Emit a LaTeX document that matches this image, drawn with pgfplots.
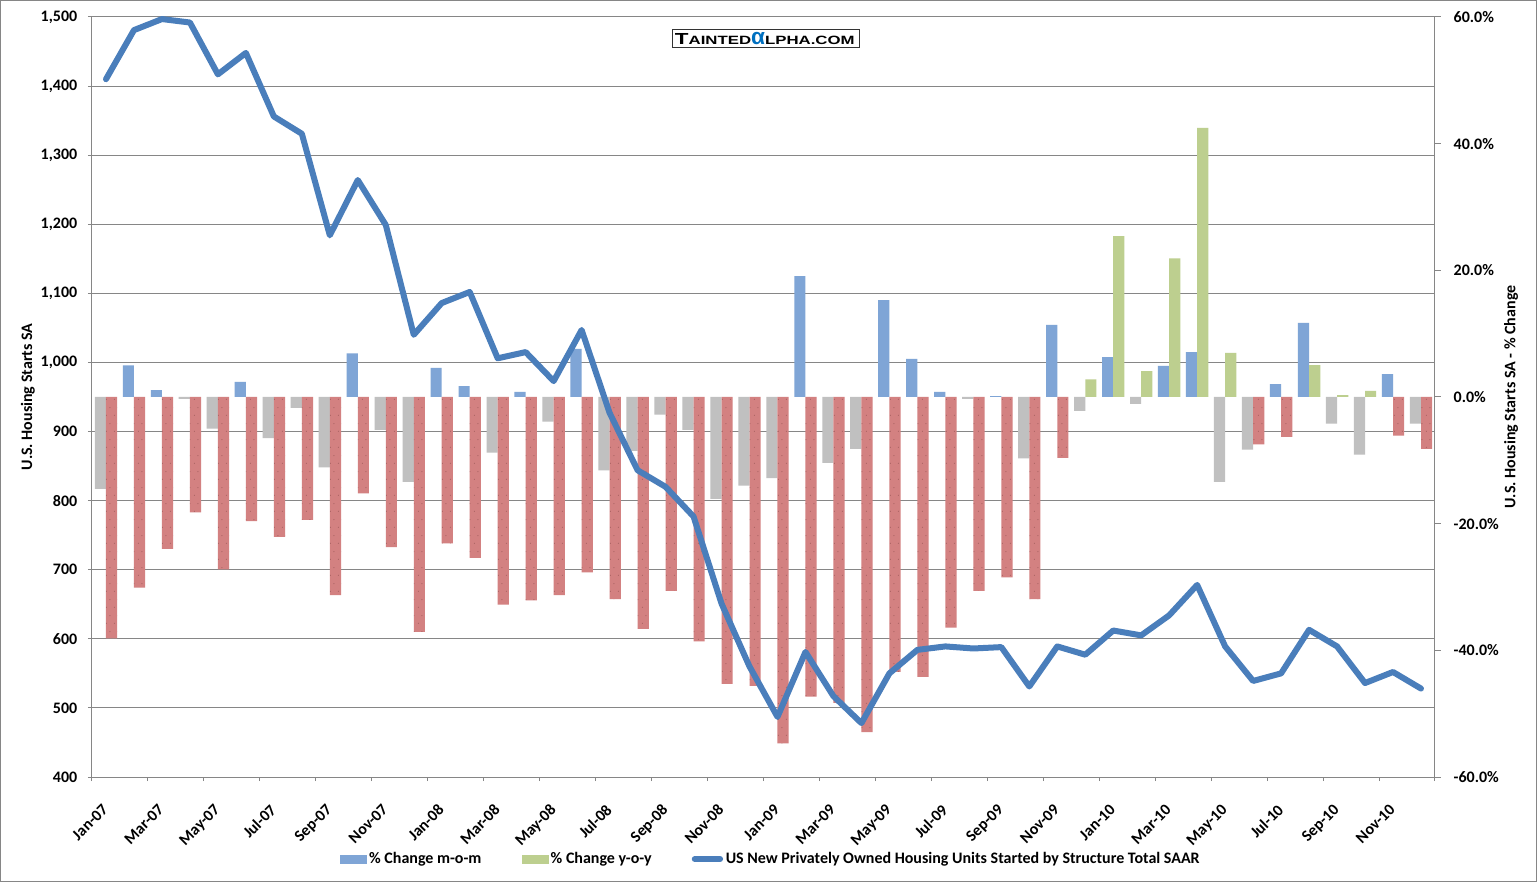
\documentclass[border=0pt]{standalone}
\usepackage{pgfplots}
\pgfplotsset{compat=1.18}
\usepackage{pgfplotstable}
\usepackage{fontspec}
\setmainfont{Carlito}
\newfontfamily\wmfont[FakeStretch=1.4]{Liberation Sans}
\newfontfamily\alphafont{Liberation Sans}
\usetikzlibrary{patterns}

\definecolor{mompos}{HTML}{7FA5D6}
\definecolor{momneg}{HTML}{C0C0C0}
\definecolor{yoypos}{HTML}{BDCF8F}
\definecolor{yoyneg}{HTML}{D38181}
\definecolor{reddot}{HTML}{9E5A5A}
\definecolor{linecol}{HTML}{4A7EBB}
\definecolor{axisgray}{HTML}{868686}
\definecolor{wmblue}{HTML}{0070C0}

\pgfdeclarepatternformonly{sparsedots}{\pgfpointorigin}{\pgfqpoint{6pt}{12pt}}{\pgfqpoint{6pt}{12pt}}{%
  \pgfpathcircle{\pgfqpoint{2pt}{3pt}}{0.45pt}%
  \pgfpathcircle{\pgfqpoint{5pt}{9pt}}{0.45pt}%
  \pgfusepath{fill}}

\newcommand\chartfont{\bfseries\fontsize{12}{14}\selectfont}

% idx = month index from Jan-07; starts in thousands; mom / yoy in %
\pgfplotstableread{
idx starts mom yoy
0 1410 -14.5 -38.1
1 1481 5.0 -30.1
2 1497 1.1 -24.0
3 1492 -0.3 -18.2
4 1417 -5.0 -27.2
5 1448 2.4 -19.6
6 1356 -6.5 -22.1
7 1331 -1.7 -19.4
8 1184 -11.1 -31.3
9 1264 6.9 -15.2
10 1199 -5.2 -23.7
11 1040 -13.4 -37.1
12 1086 4.6 -23.1
13 1102 1.7 -25.4
14 1006 -8.8 -32.8
15 1015 0.8 -32.1
16 973 -3.9 -31.3
17 1047 7.6 -27.7
18 927 -11.6 -31.9
19 844 -8.5 -36.6
20 820 -2.8 -30.6
21 777 -5.2 -38.6
22 651 -16.1 -45.3
23 560 -14.0 -45.6
24 487 -12.8 -54.7
25 581 19.1 -47.3
26 517 -10.4 -48.3
27 478 -8.2 -52.9
28 550 15.3 -43.4
29 584 6.0 -44.2
30 589 0.8 -36.4
31 586 -0.3 -30.6
32 588 0.15 -28.5
33 531 -9.7 -31.9
34 589 11.4 -9.6
35 577 -2.2 2.8
36 612 6.3 25.4
37 605 -1.1 4.1
38 634 4.9 21.9
39 678 7.1 42.5
40 589 -13.4 6.95
41 539 -8.3 -7.5
42 550 2.05 -6.3
43 613 11.7 5.05
44 589 -4.2 0.3
45 536 -9.1 0.95
46 552 3.6 -6.1
47 528 -4.2 -8.2
}\housing

\pgfplotsset{
  base/.style={
    scale only axis, width=1007.25pt, height=570pt,
    at={(0,0)}, anchor=south west,
    xmin=-0.5, xmax=47.5,
    axis line style={axisgray, line width=0.75pt},
    tick style={axisgray, line width=0.75pt},
    tick align=outside,
    tick label style={font=\chartfont},
    label style={font=\chartfont},
    /pgf/number format/assume math mode=true,
  },
  bars/.style={ybar, bar width=0.4, draw=none},
}

\begin{document}
\begin{tikzpicture}[font=\chartfont]
\path[use as bounding box] (-69pt,-78.75pt) rectangle (1083.75pt,582.75pt);
\fill[white] (-69pt,-78.75pt) rectangle (1083.75pt,582.75pt);
\draw[axisgray, line width=0.75pt] (-68.6pt,-78.35pt) rectangle (1083.35pt,582.35pt);

% left scale: grid, month ticks
\begin{axis}[base,
  ymin=400, ymax=1500,
  axis x line*=bottom, axis y line*=left,
  ytick={400,500,...,1500},
  ymajorgrids, grid style={axisgray, line width=0.75pt},
  major tick length=3pt,
  scaled y ticks=false,
  /pgf/number format/1000 sep={,},
  yticklabel style={xshift=-4.5pt},
  xtick={-0.5,1.5,...,47.5},
  xticklabels={Jan-07,Mar-07,May-07,Jul-07,Sep-07,Nov-07,
    Jan-08,Mar-08,May-08,Jul-08,Sep-08,Nov-08,
    Jan-09,Mar-09,May-09,Jul-09,Sep-09,Nov-09,
    Jan-10,Mar-10,May-10,Jul-10,Sep-10,Nov-10,{}},
  xticklabel style={xshift=7pt, yshift=-16.5pt, rotate=45, anchor=north east, inner sep=0pt},
  ylabel={U.S. Housing Starts SA},
  ylabel style={at={(axis description cs:-0.0477,0.5)}, anchor=center},
]
\end{axis}

% right scale: percentage bars
\begin{axis}[base,
  ymin=-60, ymax=60,
  axis y line*=right, axis x line=none,
  ytick={-60,-40,...,60},
  major tick length=4.5pt,
  yticklabel style={xshift=6pt},
  yticklabel={\pgfmathprintnumber[fixed,fixed zerofill,precision=1]{\tick}\%},
  ylabel={U.S. Housing Starts SA - \% Change},
  ylabel style={at={(axis description cs:1.0566,0.5)}, anchor=center},
]
\addplot[bars, bar shift=-0.2, fill=mompos, y filter/.expression={y>0 ? y : nan}]
  table[x=idx, y=mom] {\housing};
\addplot[bars, bar shift=-0.2, fill=momneg, y filter/.expression={y<0 ? y : nan}]
  table[x=idx, y=mom] {\housing};
\addplot[bars, bar shift=0.2, fill=yoypos, y filter/.expression={y>0 ? y : nan}]
  table[x=idx, y=yoy] {\housing};
\addplot[bars, bar shift=0.2, fill=yoyneg, postaction={pattern=sparsedots, pattern color=reddot},
  y filter/.expression={y<0 ? y : nan}]
  table[x=idx, y=yoy] {\housing};
\end{axis}

% left scale: housing starts line and legend
\begin{axis}[base,
  ymin=400, ymax=1500,
  hide axis,
  legend columns=3,
  legend style={at={(0.5052,-0.108)}, anchor=center, draw=none, fill=none,
    font=\chartfont, inner sep=0pt,
    nodes={inner sep=1pt},
    /tikz/every odd column/.append style={column sep=1pt},
    /tikz/every even column/.append style={column sep=29pt}},
]
\addlegendimage{legend image code/.code={\fill[mompos] (0pt,-3pt) rectangle (19.5pt,3pt);}}
\addlegendentry{\% Change m-o-m}
\addlegendimage{legend image code/.code={\fill[yoypos] (0pt,-3pt) rectangle (19.5pt,3pt);}}
\addlegendentry{\% Change y-o-y}
\addplot[linecol, line width=4.5pt, line join=round, line cap=round,
  legend image code/.code={\draw[linecol, line width=4.5pt, line cap=round] (2pt,0pt) -- (21pt,0pt);}]
  table[x=idx, y=starts] {\housing};
\addlegendentry{US New Privately Owned Housing Units Started by Structure Total SAAR}
\end{axis}

% watermark
\draw[black!80, line width=0.75pt] (435.5pt,546.75pt) rectangle (575.25pt,560.25pt);
\node[anchor=base west, inner sep=0pt] at (437pt,549pt)
  {\wmfont\bfseries\fontsize{12}{12}\selectfont T\fontsize{9}{9}\selectfont AINTED%
   {\alphafont\bfseries\fontsize{17}{17}\selectfont\color{wmblue}α}%
   LPHA.COM};
\end{tikzpicture}
\end{document}
